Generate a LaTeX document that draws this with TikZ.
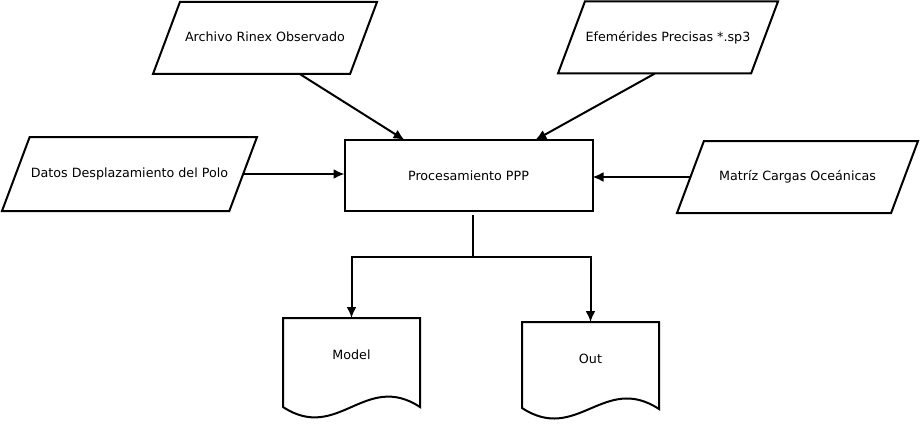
\documentclass[tikz,border=0pt]{standalone}
\usepackage{fontspec}
\setmainfont{DejaVu Sans}
\usetikzlibrary{arrows.meta, shapes, positioning}

\begin{document}
\begin{tikzpicture}[x=1pt, y=-1pt, >={Latex[length=11pt,width=10pt]},
        font=\fontsize{12.7}{15}\selectfont]
        \tikzstyle{entrada} = [draw, trapezium, trapezium left angle=69.5,
        trapezium right angle=110.5, trapezium stretches body, text height=10pt,
        text depth=2.5pt, inner xsep=0pt, inner ysep=29.75pt, outer sep=0pt,
        line width=2pt]
        \tikzstyle{block} = [draw, shape=rectangle, minimum width=248, minimum
        height=71, outer sep=0pt, line width=2pt]
        \tikzstyle{doc} = [shape=rectangle, minimum width=137, minimum height=74,
        outer sep=0pt]
        \useasboundingbox[fill=white] (0,0) rectangle (920,425);
        %Creating Blocks and Connection Nodes
        \node [entrada, minimum width=224] at (265,38) (rinex) {Archivo Rinex Observado};
        \node [entrada, minimum width=220] at (668,37.5) (efem) {Efemérides Precisas *.sp3};
        \node [entrada, minimum width=255, inner ysep=30.75pt] at (129.5,174) (polo) {Datos Desplazamiento del Polo};
        \node [entrada, minimum width=241] at (797.5,177) (carga) {Matríz Cargas Oceánicas};
        \node [block] at (468.5,175.5) (ppp) {Procesamiento PPP};
        \node [doc] at (351.5,355) (model) {Model};
        \node [doc] at (590.5,359) (out) {Out};
        \coordinate (split) at (473,257);

        %Document outlines
        \begin{scope}[line width=2pt]
            \draw (model.north west) -- ++(0,89) .. controls +(55,36) and +(-55,-36) .. ++(137,0)
                -- (model.north east) -- cycle;
            \draw (out.north west) -- ++(0,86) .. controls +(55,36) and +(-55,-36) .. ++(137,1)
                -- (out.north east) -- cycle;
        \end{scope}

        %Connecting Blocks
        \begin{scope}[line width=2pt]
            \draw[->] (rinex.-46) -- (ppp.151);
            \draw[->] (efem.-110) -- (ppp.28);
            \draw[->] (polo.east) -- (polo.east -| ppp.west);
            \draw[->] (carga.west) -- (carga.west -| ppp.east);
            \draw ([yshift=-4pt]ppp.south -| split) -- (split);
            \draw[->] (split) -| (model.north);
            \draw[->] (split) -| (out.north);
        \end{scope}
    \end{tikzpicture}
\end{document}
